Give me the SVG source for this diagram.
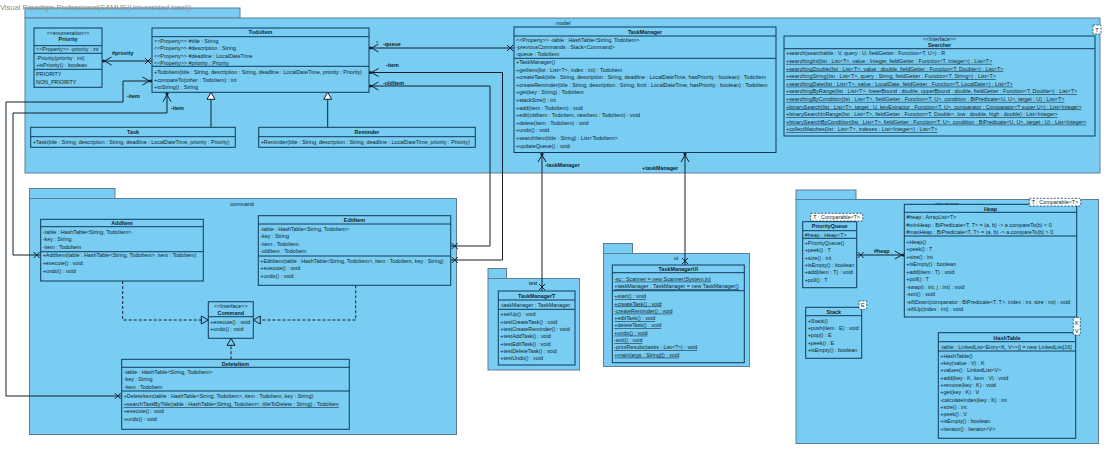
<svg xmlns="http://www.w3.org/2000/svg" width="1109" height="452" viewBox="0 0 1109 452">
<style>
  .pkg rect { fill: #79cdf2; stroke: #5e7f96; stroke-width: 1; }
  .cls rect { fill: #79cdf2; stroke: #0f3b5a; stroke-width: 1; }
  .cls line { stroke: #0f3b5a; stroke-width: 1; }
  .tpl rect { fill: #ffffff; stroke: #0f3b5a; stroke-width: 0.8; stroke-dasharray: 2 1.5; }
  text { font-family: "Liberation Sans", Arial, sans-serif; font-size: 5.4px; fill: #0e1f2d; }
  .b { font-weight: bold; }
  .c { text-anchor: middle; }
  .u { text-decoration: underline; }
  .ln { fill: none; stroke: #13202c; stroke-width: 1; }
  .dash { stroke-dasharray: 3 2; }
  .title { font-size: 7.5px; fill: #8c8c8c; }
</style>
<defs>
  <!-- owned, navigable association end: dot plus open arrowhead -->
  <marker id="own" markerUnits="userSpaceOnUse" markerWidth="12" markerHeight="12" refX="0" refY="0" orient="auto" overflow="visible">
    <circle cx="1.5" cy="0" r="1.6" fill="#13202c"/>
    <path d="M9.5,-4 L2.5,0 L9.5,4" fill="none" stroke="#13202c" stroke-width="1"/>
  </marker>
  <!-- non-navigable association end -->
  <marker id="nonav" markerUnits="userSpaceOnUse" markerWidth="12" markerHeight="12" refX="0" refY="0" orient="auto" overflow="visible">
    <path d="M-7,-3 L-1,3 M-7,3 L-1,-3" fill="none" stroke="#13202c" stroke-width="1"/>
  </marker>
  <!-- generalization -->
  <marker id="gen" markerUnits="userSpaceOnUse" markerWidth="12" markerHeight="12" refX="0" refY="0" orient="auto" overflow="visible">
    <path d="M0,0 L-7,-4 L-7,4 Z" fill="#ffffff" stroke="#13202c" stroke-width="1"/>
  </marker>
  <!-- realization -->
  <marker id="real" markerUnits="userSpaceOnUse" markerWidth="12" markerHeight="12" refX="0" refY="0" orient="auto" overflow="visible">
    <path d="M0,0 L-7,-4 L-7,4 Z" fill="#79cdf2" stroke="#13202c" stroke-width="1"/>
  </marker>
</defs>

<!-- packages -->
<g id="pkg-model" class="pkg">
  <rect x="25" y="8" width="215" height="10"/>
  <rect x="25" y="18" width="1075" height="155"/>
  <text x="563" y="25" class="c">model</text>
</g>
<g id="pkg-command" class="pkg">
  <rect x="29.5" y="188.5" width="85.5" height="10"/>
  <rect x="29.5" y="198.5" width="427" height="236"/>
  <text x="242" y="205.5" class="c">command</text>
</g>
<g id="pkg-test" class="pkg">
  <rect x="488" y="268.5" width="18.5" height="10"/>
  <rect x="488" y="278.5" width="91.5" height="91.5"/>
  <text x="533" y="284.5" class="c">test</text>
</g>
<g id="pkg-ui" class="pkg">
  <rect x="603.5" y="243.5" width="29" height="10"/>
  <rect x="603.5" y="253.5" width="146" height="113"/>
  <text x="676" y="260" class="c">ui</text>
</g>
<g id="pkg-structures" class="pkg">
  <rect x="796" y="190" width="60" height="9.5"/>
  <rect x="796" y="199.5" width="302.5" height="244"/>
  <text x="947" y="205.5" class="c">structures</text>
</g>

<!-- connectors -->
<g id="connectors">
  <path class="ln" d="M102,61 L152,61" marker-start="url(#own)" marker-end="url(#nonav)"/>
  <path class="ln" d="M369,48 L514,48" marker-start="url(#own)" marker-end="url(#nonav)"/>
  <path class="ln" d="M369,72.5 L502.5,72.5 L502.5,260 L450.7,260" marker-start="url(#own)" marker-end="url(#nonav)"/>
  <path class="ln" d="M369,86 L490,86 L490,246 L450.7,246" marker-start="url(#own)" marker-end="url(#nonav)"/>
  <path class="ln" d="M167,92.3 L167,113 L13,113 L13,255 L40.7,255" marker-start="url(#own)" marker-end="url(#nonav)"/>
  <path class="ln" d="M152,81 L123,81 L123,102 L6,102 L6,396 L121.7,396" marker-start="url(#own)" marker-end="url(#nonav)"/>
  <path class="ln" d="M211,127.3 L211,92.3" marker-end="url(#gen)"/>
  <path class="ln" d="M327.7,127.3 L327.7,92.3" marker-end="url(#gen)"/>
  <path class="ln" d="M542,152.5 L542,291" marker-start="url(#own)" marker-end="url(#nonav)"/>
  <path class="ln" d="M685,152.5 L685,265" marker-start="url(#own)" marker-end="url(#nonav)"/>
  <path class="ln" d="M904.3,255 L856.7,255" marker-start="url(#own)" marker-end="url(#nonav)"/>
  <path class="ln dash" d="M122.7,281 L122.7,320 L208.3,320" marker-end="url(#real)"/>
  <path class="ln dash" d="M355.7,285.3 L355.7,320 L253.3,320" marker-end="url(#real)"/>
  <path class="ln dash" d="M231,359.3 L231,338.3" marker-end="url(#real)"/>
  <text x="112" y="55" class="b">#priority</text>
  <text x="376" y="44.5">*</text>
  <text x="383" y="45.5" class="b">-queue</text>
  <text x="386" y="67" class="b">-item</text>
  <text x="383" y="84.5" class="b">-oldItem</text>
  <text x="127" y="98" class="b">-item</text>
  <text x="171" y="110" class="b">-item</text>
  <text x="545" y="167" class="b">-taskManager</text>
  <text x="642" y="170" class="b">+taskManager</text>
  <text x="874" y="253" class="b">#heap</text>
</g>

<!-- model -->
<g id="Priority" class="cls">
  <rect x="34" y="28" width="68" height="59.3"/>
  <text x="68" y="34.5" class="c">&lt;&lt;enumeration&gt;&gt;</text>
  <text x="68" y="41" class="c b">Priority</text>
  <line x1="34" y1="45.7" x2="102" y2="45.7"/>
  <text x="36" y="51">&lt;&lt;Property&gt;&gt; -priority : int</text>
  <line x1="34" y1="53.3" x2="102" y2="53.3"/>
  <text x="36" y="59.5">-Priority(priority : int)</text>
  <text x="36" y="66.7">+isPriority() : boolean</text>
  <line x1="34" y1="69.3" x2="102" y2="69.3"/>
  <text x="36" y="76">PRIORITY</text>
  <text x="36" y="83.7">NON_PRIORITY</text>
</g>
<g id="TodoItem" class="cls">
  <rect x="152" y="28" width="217" height="64.3"/>
  <text x="260.5" y="34.3" class="c b">TodoItem</text>
  <line x1="152" y1="36.7" x2="369" y2="36.7"/>
  <text x="154" y="43">&lt;&lt;Property&gt;&gt; #title : String</text>
  <text x="154" y="50.3">&lt;&lt;Property&gt;&gt; #description : String</text>
  <text x="154" y="57.7">&lt;&lt;Property&gt;&gt; #deadline : LocalDateTime</text>
  <text x="154" y="64.7">&lt;&lt;Property&gt;&gt; #priority : Priority</text>
  <line x1="152" y1="66.3" x2="369" y2="66.3"/>
  <text x="154" y="73.7">+TodoItem(title : String, description : String, deadline : LocalDateTime, priority : Priority)</text>
  <text x="154" y="81.5">+compareTo(other : TodoItem) : int</text>
  <text x="154" y="89">+toString() : String</text>
</g>
<g id="Task" class="cls">
  <rect x="30.7" y="127.3" width="204.6" height="20"/>
  <text x="133" y="134" class="c b">Task</text>
  <line x1="30.7" y1="136.7" x2="235.3" y2="136.7"/>
  <text x="32.7" y="143.7">+Task(title : String, description : String, deadline : LocalDateTime, priority : Priority)</text>
</g>
<g id="Reminder" class="cls">
  <rect x="258.7" y="127.3" width="216.6" height="20"/>
  <text x="367" y="134" class="c b">Reminder</text>
  <line x1="258.7" y1="136.7" x2="475.3" y2="136.7"/>
  <text x="260.7" y="143.7">+Reminder(title : String, description : String, deadline : LocalDateTime, priority : Priority)</text>
</g>
<g id="TaskManager" class="cls">
  <rect x="514" y="27" width="262" height="125.5"/>
  <text x="645" y="34" class="c b">TaskManager</text>
  <line x1="514" y1="36" x2="776" y2="36"/>
  <text x="516" y="42">&lt;&lt;Property&gt;&gt; -table : HashTable&lt;String, TodoItem&gt;</text>
  <text x="516" y="49">-previousCommands : Stack&lt;Command&gt;</text>
  <text x="516" y="56.3">-queue : TodoItem</text>
  <line x1="514" y1="58.3" x2="776" y2="58.3"/>
  <text x="516" y="64">+TaskManager()</text>
  <text x="516" y="71.6">+getItem(list : List&lt;?&gt;, index : int) : TodoItem</text>
  <text x="516" y="79.2">+createTask(title : String, description : String, deadline : LocalDateTime, hasPriority : boolean) : TodoItem</text>
  <text x="516" y="86.8">+createReminder(title : String, description : String, limit : LocalDateTime, hasPriority : boolean) : TodoItem</text>
  <text x="516" y="94.4">+get(key : String) : TodoItem</text>
  <text x="516" y="102">+stackSize() : int</text>
  <text x="516" y="109.6">+add(item : TodoItem) : void</text>
  <text x="516" y="117.2">+edit(oldItem : TodoItem, newItem : TodoItem) : void</text>
  <text x="516" y="124.8">+delete(item : TodoItem) : void</text>
  <text x="516" y="132.4">+undo() : void</text>
  <text x="516" y="140">+searchItem(title : String) : List&lt;TodoItem&gt;</text>
  <text x="516" y="147.6">+updateQueue() : void</text>
</g>
<g id="Searcher" class="cls">
  <rect x="784" y="36" width="311" height="100"/>
  <text x="939.5" y="41" class="c">&lt;&lt;Interface&gt;&gt;</text>
  <text x="939.5" y="46.5" class="c b">Searcher</text>
  <line x1="784" y1="48.7" x2="1095" y2="48.7"/>
  <text x="786" y="55.3">+search(searchable : V, query : U, fieldGetter : Function&lt;T, U&gt;) : R</text>
  <text x="786" y="62.9" class="u">+searchingInt(list : List&lt;T&gt;, value : Integer, fieldGetter : Function&lt;T, Integer&gt;) : List&lt;T&gt;</text>
  <text x="786" y="70.5" class="u">+searchingDouble(list : List&lt;T&gt;, value : double, fieldGetter : Function&lt;T, Double&gt;) : List&lt;T&gt;</text>
  <text x="786" y="78.1" class="u">+searchingString(list : List&lt;T&gt;, query : String, fieldGetter : Function&lt;T, String&gt;) : List&lt;T&gt;</text>
  <text x="786" y="85.7" class="u">+searchingDate(list : List&lt;T&gt;, value : LocalDate, fieldGetter : Function&lt;T, LocalDate&gt;) : List&lt;T&gt;</text>
  <text x="786" y="93.3" class="u">+searchingByRange(list : List&lt;T&gt;, lowerBound : double, upperBound : double, fieldGetter : Function&lt;T, Double&gt;) : List&lt;T&gt;</text>
  <text x="786" y="100.9" class="u">+searchingByCondition(list : List&lt;T&gt;, fieldGetter : Function&lt;T, U&gt;, condition : BiPredicate&lt;U, U&gt;, target : U) : List&lt;T&gt;</text>
  <text x="786" y="108.5" class="u">+binarySearch(list : List&lt;T&gt;, target : U, keyExtractor : Function&lt;T, U&gt;, comparator : Comparator&lt;? super U&gt;) : List&lt;Integer&gt;</text>
  <text x="786" y="116.1" class="u">+binarySearchInRange(list : List&lt;T&gt;, fieldGetter : Function&lt;T, Double&gt;, low : double, high : double) : List&lt;Integer&gt;</text>
  <text x="786" y="123.7" class="u">+binarySearchByCondition(list : List&lt;T&gt;, fieldGetter : Function&lt;T, U&gt;, condition : BiPredicate&lt;U, U&gt;, target : U) : List&lt;Integer&gt;</text>
  <text x="786" y="131.3" class="u">+collectMatches(list : List&lt;T&gt;, indexes : List&lt;Integer&gt;) : List&lt;T&gt;</text>
</g>
<g id="Searcher-T" class="tpl">
  <rect x="1093" y="25" width="8" height="9"/>
  <text x="1097" y="31.5" class="c">T</text>
</g>

<!-- command -->
<g id="AddItem" class="cls">
  <rect x="40.7" y="219.3" width="162.6" height="61.7"/>
  <text x="122" y="225.3" class="c b">AddItem</text>
  <line x1="40.7" y1="226.7" x2="203.3" y2="226.7"/>
  <text x="42.7" y="234">-table : HashTable&lt;String, TodoItem&gt;</text>
  <text x="42.7" y="241.3">-key : String</text>
  <text x="42.7" y="248.7">-item : TodoItem</text>
  <line x1="40.7" y1="251.7" x2="203.3" y2="251.7"/>
  <text x="42.7" y="257.3">+AddItem(table : HashTable&lt;String, TodoItem&gt;, item : TodoItem)</text>
  <text x="42.7" y="265">+execute() : void</text>
  <text x="42.7" y="272.7">+undo() : void</text>
</g>
<g id="EditItem" class="cls">
  <rect x="258.3" y="215.7" width="192.4" height="69.6"/>
  <text x="354.5" y="222" class="c b">EditItem</text>
  <line x1="258.3" y1="224" x2="450.7" y2="224"/>
  <text x="260.3" y="231">-table : HashTable&lt;String, TodoItem&gt;</text>
  <text x="260.3" y="238.3">-key : String</text>
  <text x="260.3" y="245.7">-item : TodoItem</text>
  <text x="260.3" y="253">-oldItem : TodoItem</text>
  <line x1="258.3" y1="256" x2="450.7" y2="256"/>
  <text x="260.3" y="262.7">+EditItem(table : HashTable&lt;String, TodoItem&gt;, item : TodoItem, key : String)</text>
  <text x="260.3" y="270">+execute() : void</text>
  <text x="260.3" y="277.7">+undo() : void</text>
</g>
<g id="Command" class="cls">
  <rect x="208.3" y="301.7" width="45" height="36.6"/>
  <text x="230.8" y="308" class="c">&lt;&lt;Interface&gt;&gt;</text>
  <text x="230.8" y="315.2" class="c b">Command</text>
  <line x1="208.3" y1="316.7" x2="253.3" y2="316.7"/>
  <text x="210.3" y="324">+execute() : void</text>
  <text x="210.3" y="331.3">+undo() : void</text>
</g>
<g id="DeleteItem" class="cls">
  <rect x="121.7" y="359.3" width="227.6" height="70"/>
  <text x="235.5" y="366" class="c b">DeleteItem</text>
  <line x1="121.7" y1="367.3" x2="349.3" y2="367.3"/>
  <text x="123.7" y="374">-table : HashTable&lt;String, TodoItem&gt;</text>
  <text x="123.7" y="381.3">-key : String</text>
  <text x="123.7" y="389">-item : TodoItem</text>
  <line x1="121.7" y1="391" x2="349.3" y2="391"/>
  <text x="123.7" y="398">+DeleteItem(table : HashTable&lt;String, TodoItem&gt;, item : TodoItem, key : String)</text>
  <text x="123.7" y="406" class="u">+searchTaskByTitle(table : HashTable&lt;String, TodoItem&gt;, titleToDelete : String) : TodoItem</text>
  <text x="123.7" y="413">+execute() : void</text>
  <text x="123.7" y="420.7">+undo() : void</text>
</g>

<!-- test -->
<g id="TaskManagerT" class="cls">
  <rect x="498.3" y="291" width="76.7" height="74"/>
  <text x="536.7" y="298" class="c b">TaskManagerT</text>
  <line x1="498.3" y1="300" x2="575" y2="300"/>
  <text x="500.3" y="307">-taskManager : TaskManager</text>
  <line x1="498.3" y1="309.3" x2="575" y2="309.3"/>
  <text x="500.3" y="316.3">+setUp() : void</text>
  <text x="500.3" y="323.7">+testCreateTask() : void</text>
  <text x="500.3" y="331">+testCreateReminder() : void</text>
  <text x="500.3" y="338.3">+testAddTask() : void</text>
  <text x="500.3" y="345.7">+testEditTask() : void</text>
  <text x="500.3" y="353">+testDeleteTask() : void</text>
  <text x="500.3" y="360.3">+testUndo() : void</text>
</g>

<!-- ui -->
<g id="TaskManagerUI" class="cls">
  <rect x="612.3" y="265" width="132" height="97.7"/>
  <text x="678.3" y="271.3" class="c b">TaskManagerUI</text>
  <line x1="612.3" y1="272.7" x2="744.3" y2="272.7"/>
  <text x="614.3" y="280.7" class="u">-sc : Scanner = new Scanner(System.in)</text>
  <text x="614.3" y="288" class="u">+taskManager : TaskManager = new TaskManager()</text>
  <line x1="612.3" y1="290.7" x2="744.3" y2="290.7"/>
  <text x="614.3" y="298.3" class="u">+start() : void</text>
  <text x="614.3" y="305.5" class="u">+createTask() : void</text>
  <text x="614.3" y="312.7" class="u">-createReminder() : void</text>
  <text x="614.3" y="320" class="u">+editTask() : void</text>
  <text x="614.3" y="327.3" class="u">+deleteTask() : void</text>
  <text x="614.3" y="334.7" class="u">+undo() : void</text>
  <text x="614.3" y="342" class="u">-exit() : void</text>
  <text x="614.3" y="349.3" class="u">-printResults(tasks : List&lt;?&gt;) : void</text>
  <text x="614.3" y="356.7" class="u">+main(args : String[]) : void</text>
</g>

<!-- structures -->
<g id="Heap" class="cls">
  <rect x="904.3" y="204.3" width="172.4" height="112.7"/>
  <text x="990.5" y="211.3" class="c b">Heap</text>
  <line x1="904.3" y1="212.3" x2="1076.7" y2="212.3"/>
  <text x="906.3" y="219.3">#heap : ArrayList&lt;T&gt;</text>
  <text x="906.3" y="226.5">#minHeap : BiPredicate&lt;T, T&gt; = (a, b) -&gt; a.compareTo(b) &lt; 0</text>
  <text x="906.3" y="233.7">#maxHeap : BiPredicate&lt;T, T&gt; = (a, b) -&gt; a.compareTo(b) &gt; 0</text>
  <line x1="904.3" y1="236" x2="1076.7" y2="236"/>
  <text x="906.3" y="243.5">+Heap()</text>
  <text x="906.3" y="251">+peek() : T</text>
  <text x="906.3" y="258.5">+size() : int</text>
  <text x="906.3" y="266">+isEmpty() : boolean</text>
  <text x="906.3" y="273.5">+add(item : T) : void</text>
  <text x="906.3" y="281">+poll() : T</text>
  <text x="906.3" y="288.5">-swap(i : int, j : int) : void</text>
  <text x="906.3" y="296">-sort() : void</text>
  <text x="906.3" y="303.5">-siftDown(comparator : BiPredicate&lt;T, T&gt;, index : int, size : int) : void</text>
  <text x="906.3" y="311">-siftUp(index : int) : void</text>
</g>
<g id="Heap-T" class="tpl">
  <rect x="1029.3" y="198.3" width="51.4" height="7.7"/>
  <text x="1055" y="204.2" class="c">T : Comparable&lt;T&gt;</text>
</g>
<g id="PriorityQueue" class="cls">
  <rect x="802.7" y="221.7" width="54" height="66"/>
  <text x="829.7" y="228" class="c b">PriorityQueue</text>
  <line x1="802.7" y1="230.7" x2="856.7" y2="230.7"/>
  <text x="804.7" y="237">#heap : Heap&lt;T&gt;</text>
  <line x1="802.7" y1="238.3" x2="856.7" y2="238.3"/>
  <text x="804.7" y="245">+PriorityQueue()</text>
  <text x="804.7" y="252.3">+peek() : T</text>
  <text x="804.7" y="259.5">+size() : int</text>
  <text x="804.7" y="266.8">+isEmpty() : boolean</text>
  <text x="804.7" y="274">+add(item : T) : void</text>
  <text x="804.7" y="281.5">+poll() : T</text>
</g>
<g id="PriorityQueue-T" class="tpl">
  <rect x="810.7" y="213.3" width="52" height="7.7"/>
  <text x="836.7" y="219.2" class="c">T : Comparable&lt;T&gt;</text>
</g>
<g id="Stack" class="cls">
  <rect x="805.7" y="307.3" width="56" height="51"/>
  <text x="833.7" y="314.3" class="c b">Stack</text>
  <line x1="805.7" y1="315.7" x2="861.7" y2="315.7"/>
  <text x="807.7" y="322.7">+Stack()</text>
  <text x="807.7" y="330">+push(item : E) : void</text>
  <text x="807.7" y="337.3">+pop() : E</text>
  <text x="807.7" y="344.7">+peek() : E</text>
  <text x="807.7" y="352">+isEmpty() : boolean</text>
</g>
<g id="Stack-E" class="tpl">
  <rect x="859" y="301" width="7.7" height="8.3"/>
  <text x="862.8" y="307.2" class="c">E</text>
</g>
<g id="HashTable" class="cls">
  <rect x="938.3" y="332.7" width="137.4" height="105.6"/>
  <text x="1007" y="339.7" class="c b">HashTable</text>
  <line x1="938.3" y1="341.7" x2="1075.7" y2="341.7"/>
  <text x="940.3" y="348.7">-table : LinkedList&lt;Entry&lt;K, V&gt;&gt;[] = new LinkedList[16]</text>
  <line x1="938.3" y1="351" x2="1075.7" y2="351"/>
  <text x="940.3" y="357.7">+HashTable()</text>
  <text x="940.3" y="365">+key(value : V) : K</text>
  <text x="940.3" y="372.3">+values() : LinkedList&lt;V&gt;</text>
  <text x="940.3" y="379.6">+add(key : K, item : V) : void</text>
  <text x="940.3" y="386.9">+remove(key : K) : void</text>
  <text x="940.3" y="394.2">+get(key : K) : V</text>
  <text x="940.3" y="401.5">-calculateIndex(key : K) : int</text>
  <text x="940.3" y="408.8">+size() : int</text>
  <text x="940.3" y="416.1">+peek() : V</text>
  <text x="940.3" y="423.4">+isEmpty() : boolean</text>
  <text x="940.3" y="430.7">+iterator() : Iterator&lt;V&gt;</text>
</g>
<g id="HashTable-KV" class="tpl">
  <rect x="1073.3" y="317.7" width="7" height="17.3"/>
  <text x="1076.8" y="324.5" class="c">K</text>
  <text x="1076.8" y="332.5" class="c">V</text>
</g>

<text x="0" y="10" class="title">Visual Paradigm Professional(SAMUE(Universidad Icesi))</text>
</svg>
